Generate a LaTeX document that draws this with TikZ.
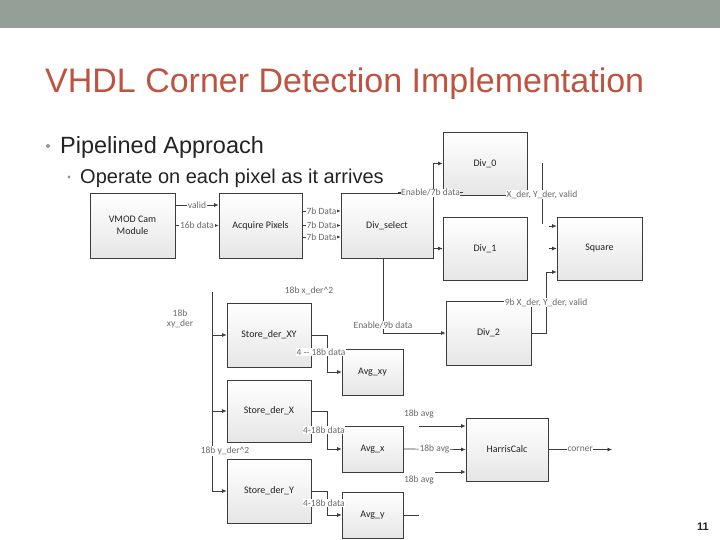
\documentclass[tikz,border=0pt]{standalone}
\usepackage{fontspec}
\setmainfont{Liberation Sans}
\newfontfamily\diag{Carlito}
\usetikzlibrary{arrows.meta,calc}
\definecolor{barc}{RGB}{148,160,151}
\definecolor{titlec}{RGB}{189,83,64}
\definecolor{linec}{RGB}{60,60,60}
\definecolor{boxbot}{RGB}{230,230,230}
\definecolor{lblc}{RGB}{105,105,105}
\definecolor{bodyc}{RGB}{35,35,35}
\definecolor{bulc}{RGB}{150,150,150}
\begin{document}
\begin{tikzpicture}[x=1pt,y=-1pt,
  blk/.style={draw=linec, line width=0.7pt, top color=white, bottom color=boxbot, text=bodyc,
              font=\diag\fontsize{10}{11.5}\selectfont, align=center, inner sep=0pt},
  lbl/.style={fill=white, text=lblc, font=\diag\fontsize{9.5}{10.5}\selectfont, inner sep=0.6pt, align=center},
  wire/.style={draw=linec, line width=0.7pt},
  arr/.style={wire, -{Latex[length=4.5pt,width=4pt]}}]
\useasboundingbox (0,0) rectangle (720,540);
\fill[barc] (0,0) rectangle (720,28);

% texts
\node[anchor=base west, inner sep=0, text=titlec, font=\fontsize{34}{40}\selectfont] (title) at (45,93) {VHDL Corner Detection Implementation};
\fill[bulc] (48,146) circle (2);
\node[anchor=base west, inner sep=0, text=bodyc, font=\fontsize{23.5}{28}\selectfont] (b1) at (60,154) {Pipelined Approach};
\fill[bulc] (69,177) circle (1.6);
\node[anchor=base west, inner sep=0, text=bodyc, font=\fontsize{20}{24}\selectfont] (b2) at (80,184) {Operate on each pixel as it arrives};
\node[text=bodyc, font=\fontsize{11}{13}\selectfont\bfseries] (num) at (703,527) {11};

% blocks
\node[blk, minimum width=85pt, minimum height=65pt] (vmod) at (132.5,225.5) {VMOD Cam\\Module};
\node[blk, minimum width=83pt, minimum height=65pt] (acq) at (260.5,225.5) {Acquire Pixels};
\node[blk, minimum width=92pt, minimum height=65pt] (dsel) at (387,225.5) {Div\_select};
\node[blk, minimum width=84pt, minimum height=63pt] (div0) at (485,163.5) {Div\_0};
\node[blk, minimum width=84pt, minimum height=63pt] (div1) at (485,248.5) {Div\_1};
\node[blk, minimum width=85pt, minimum height=63pt] (sq) at (599.5,248.5) {Square};
\node[blk, minimum width=85pt, minimum height=64pt] (div2) at (488.5,333) {Div\_2};
\node[blk, minimum width=84pt, minimum height=64pt] (sxy) at (269,335) {Store\_der\_XY};
\node[blk, minimum width=61pt, minimum height=46pt] (avgxy) at (372.5,372) {Avg\_xy};
\node[blk, minimum width=84pt, minimum height=62pt] (sx) at (269,411) {Store\_der\_X};
\node[blk, minimum width=61pt, minimum height=46pt] (avgx) at (372.5,449) {Avg\_x};
\node[blk, minimum width=84pt, minimum height=64pt] (sy) at (269,491) {Store\_der\_Y};
\node[blk, minimum width=61pt, minimum height=46pt] (avgy) at (372.5,515) {Avg\_y};
\node[blk, minimum width=82pt, minimum height=63pt] (harris) at (507,449.5) {HarrisCalc};

% top row
\draw[arr] ($(vmod.east)+(0,-20.5)$) -- node[lbl]{valid} ($(acq.west)+(0,-20.5)$);
\draw[arr] (vmod.east) -- node[lbl]{16b data} (acq.west);
\draw[arr] ($(acq.east)+(0,-14.5)$) -- node[lbl]{7b Data} ($(dsel.west)+(0,-14.5)$);
\draw[arr] (acq.east) -- node[lbl]{7b Data} (dsel.west);
\draw[arr] ($(acq.east)+(0,11.5)$) -- node[lbl]{7b Data} ($(dsel.west)+(0,11.5)$);

% Div_select -> Div_0 / Div_1
\coordinate (busa) at (433,163.5);
\coordinate (busb) at (433,248.5);
\draw[wire] (busa) -- (busb);
\draw[arr] (busa) -- (div0.west);
\draw[arr] (busb) -- (div1.west);
\draw[wire] ($(dsel.north)+(11,0)$) -- node[lbl]{Enable/7b data} ($(dsel.north)+(76,0)$);

% Div outputs -> Square
\coordinate (busc) at (542,163.5);
\coordinate (busd) at (542,224);
\draw[wire] (busc) -- node[lbl, pos=0.52]{X\_der, Y\_der, valid} (busd);
\draw[arr] ($(sq.west)+(-8,-22.5)$) -- ($(sq.west)+(0,-22.5)$);
\draw[arr] ($(sq.west)+(-8,0)$) -- (sq.west);
\coordinate (tu) at (546,333);
\draw[arr] (div2.east) -- (tu) -- node[lbl, pos=0.5]{9b X\_der, Y\_der, valid} (546,272) -- ($(sq.west)+(0,23.5)$);

% Div_select -> Div_2
\coordinate (dd) at (383,333);
\draw[arr] ($(dsel.south)+(-4,0)$) -- (dd) -- (div2.west);
\node[lbl] (en9) at (383,325) {Enable/9b data};

% left bus
\node[lbl] (xyl) at (180,319) {18b\\xy\_der};
\coordinate (lbtop) at (212,292);
\coordinate (lbbot) at (212,491);
\draw[wire] (lbtop) -- (lbbot);
\draw[arr] (212,335) -- (sxy.west);
\draw[arr] (212,411) -- (sx.west);
\draw[arr] (lbbot) -- (sy.west);
\node[lbl] (yder) at (225,451) {18b y\_der\^{}2};
\node[lbl] (xder) at (309,291) {18b x\_der\^{}2};

% store -> avg
\draw[arr] (sxy.east) -- (327,335) -- (327,372) -- (avgxy.west);
\node[lbl] (d1) at (321,352) {4 -- 18b data};
\draw[arr] (sx.east) -- (327,411) -- (327,449) -- (avgx.west);
\node[lbl] (d2) at (324,430) {4-18b data};
\draw[arr] (sy.east) -- (327,491) -- (327,515) -- (avgy.west);
\node[lbl] (d3) at (324,503) {4-18b data};

% avg -> harris
\coordinate (hin1) at (419,426);
\coordinate (hin3) at (435,472);
\draw[arr] (hin1) -- ($(harris.west)+(0,-23.5)$);
\node[lbl] (a1) at (419,414) {18b avg};
\draw[arr] (avgx.east) -- node[lbl]{18b avg} (harris.west);
\draw[arr] (hin3) -- ($(harris.west)+(0,22.5)$);
\node[lbl] (a3) at (419,480) {18b avg};
\coordinate (ystub) at (419,515);
\draw[wire] (avgy.east) -- (ystub);
\coordinate (cout) at (612,449.5);
\draw[arr] (harris.east) -- node[lbl]{corner} (cout);
\end{tikzpicture}
\end{document}
